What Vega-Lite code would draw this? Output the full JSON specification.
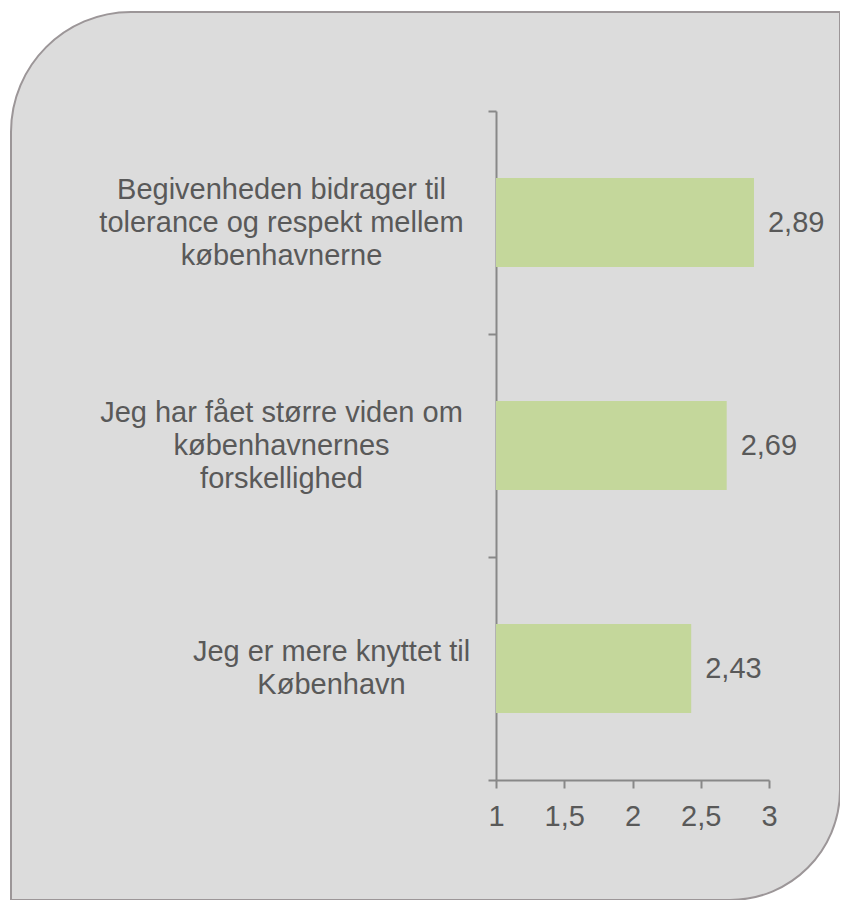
{
  "$schema": "https://vega.github.io/schema/vega-lite/v6.json",
  "width": 829,
  "height": 888,
  "autosize": {"type": "none"},
  "padding": {"left": 11, "top": 12, "right": 0, "bottom": 0},
  "background": "white",
  "data": {
    "values": [
      {"statement": "Begivenheden bidrager til\ntolerance og respekt mellem\nkøbenhavnerne", "score": 2.89},
      {"statement": "Jeg har fået større viden om\nkøbenhavnernes\nforskellighed", "score": 2.69},
      {"statement": "Jeg er mere knyttet til\nKøbenhavn", "score": 2.43}
    ]
  },
  "layer": [
    {
      "mark": {"type": "bar", "color": "#c4d79b", "height": {"band": 0.4}},
      "encoding": {
        "y": {
          "field": "statement",
          "type": "nominal",
          "sort": null,
          "scale": {"range": [99, 768], "paddingInner": 0, "paddingOuter": 0},
          "axis": {
            "title": null,
            "orient": "left",
            "offset": -485,
            "tickBand": "extent",
            "tickSize": 8,
            "tickWidth": 2,
            "tickColor": "#888888",
            "domainColor": "#888888",
            "domainWidth": 2,
            "labelExpr": "isString(datum.value) && !test(/knyttet/, datum.value) ? split(datum.value, '\\n') : ''",
            "labelFont": "Liberation Sans",
            "labelFontSize": 29,
            "labelLineHeight": 33,
            "labelColor": "#595959",
            "labelAlign": "center",
            "labelBaseline": "middle",
            "labelOffset": -33,
            "labelLimit": 600,
            "labelPadding": 207
          }
        },
        "x": {
          "field": "score",
          "type": "quantitative",
          "scale": {"domain": [1, 3], "range": [485, 758], "zero": false, "nice": false},
          "axis": {
            "title": null,
            "orient": "bottom",
            "offset": -120,
            "values": [1, 1.5, 2, 2.5, 3],
            "labelExpr": "replace(format(datum.value, '~g'), '.', ',')",
            "grid": false,
            "tickSize": 8,
            "tickWidth": 2,
            "tickColor": "#888888",
            "domainColor": "#888888",
            "domainWidth": 2,
            "labelFont": "Liberation Sans",
            "labelFontSize": 29,
            "labelColor": "#595959",
            "labelPadding": 14,
            "labelFlush": false
          }
        },
        "x2": {"datum": 1}
      }
    },
    {
      "mark": {"type": "text", "align": "left", "baseline": "middle", "dx": 14, "font": "Liberation Sans", "fontSize": 29, "color": "#595959"},
      "encoding": {
        "y": {
          "field": "statement",
          "type": "nominal",
          "sort": null,
          "axis": {
            "title": null,
            "orient": "left",
            "offset": -485,
            "domain": false,
            "ticks": false,
            "labelExpr": "isString(datum.value) && test(/knyttet/, datum.value) ? split(datum.value, '\\n') : ''",
            "labelFont": "Liberation Sans",
            "labelFontSize": 29,
            "labelLineHeight": 33,
            "labelColor": "#595959",
            "labelAlign": "center",
            "labelBaseline": "middle",
            "labelOffset": -16.5,
            "labelLimit": 600,
            "labelPadding": 165
          }
        },
        "x": {"field": "score", "type": "quantitative"},
        "text": {"field": "score", "type": "quantitative", "format": ".2f"}
      }
    }
  ],
  "resolve": {"axis": {"y": "independent"}},
  "config": {
    "locale": {"number": {"decimal": ",", "thousands": ".", "grouping": [3], "currency": ["", " kr."]}},
    "view": {"fill": "#dcdcdc", "stroke": "#9c9698", "strokeWidth": 2},
    "style": {"cell": {"cornerRadiusTopLeft": 120, "cornerRadiusBottomRight": 110}}
  }
}
